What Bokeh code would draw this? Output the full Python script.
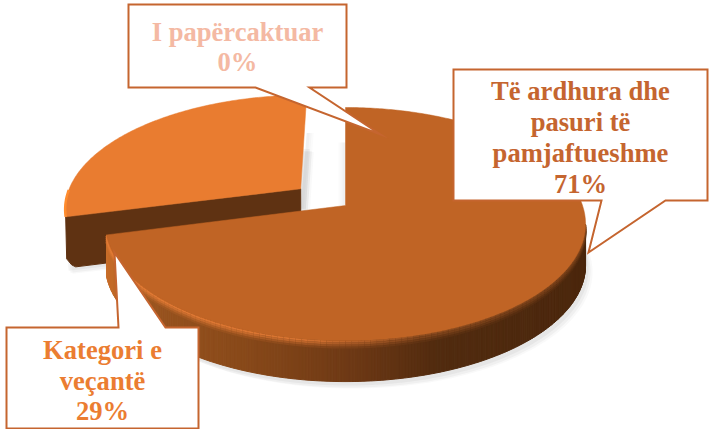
import numpy as np
from bokeh.plotting import figure
from bokeh.models import Range1d
from bokeh.core.properties import value
from bokeh.embed import file_html
from bokeh.resources import INLINE

categories = ["Të ardhura dhe pasuri të pamjaftueshme", "Kategori e veçantë", "I papërcaktuar"]
values = [71, 29, 0]
label_lines = [
    ["Të ardhura dhe", "pasuri të", "pamjaftueshme", "71%"],
    ["Kategori e", "veçantë", "29%"],
    ["I papërcaktuar", "0%"],
]
explode = [0.0, 0.245, 0.0]

TOPS = ["#C06425", "#E97C30", "#F4B9A3"]
TEXTS = ["#C5652F", "#EB7D31", "#F4B9A3"]
BORDER = "#C5652F"
DARK = "#5F3212"

# perspective projection of the unit pie disc
CX, CY, A, B, K = 345.0, 205.0, 237.0, 113.6, 0.159

def project(u, v):
    w = 1 + K * v
    return CX + A * u / w, CY - B * v / w

def slice_xy(start, sweep, off, n=160):
    th = np.radians(np.linspace(start, start + sweep, n))
    u, v = np.sin(th) + off[0], np.cos(th) + off[1]
    return project(u, v)

def hex2rgb(c):
    return np.array([int(c[i:i + 2], 16) for i in (1, 3, 5)], float)

def rgb2hex(c):
    return "#%02X%02X%02X" % tuple(int(round(max(0, min(255, x)))) for x in c)

side_x = [105, 112, 125, 165, 250, 350, 440, 590]
side_c = [hex2rgb(c) for c in ["#C96E2B", "#C26A28", "#A85E22", "#96521E", "#874819", "#6E3915", "#512B0F", "#4B270D"]]

def side_color(x):
    return np.array([np.interp(x, side_x, [c[i] for c in side_c]) for i in range(3)])

W, H = 709, 429
p = figure(width=W, height=H, x_range=Range1d(0, 709), y_range=Range1d(429, 0),
           toolbar_location=None, output_backend="svg", min_border=0,
           outline_line_color=None, background_fill_color="white")
p.xaxis.visible = False
p.yaxis.visible = False
p.grid.visible = False

total = sum(values)
sweeps = [v / total * 360 for v in values]
starts = np.cumsum([0] + sweeps[:-1])
offs = []
for st, sw, ex in zip(starts, sweeps, explode):
    mid = np.radians(st + sw / 2)
    offs.append((ex * np.sin(mid), ex * np.cos(mid)))

DEPTH = [41, 50]

# soft shadows
for i, (dx, dy, a) in enumerate([(7, 7, 0.05), (5, 6, 0.07), (3, 4, 0.09)]):
    for k in (1, 0):
        x, y = slice_xy(starts[k], sweeps[k], offs[k])
        cx, cy = project(*offs[k])
        xs = np.r_[cx, x] + dx
        ys = np.r_[cy, y] + DEPTH[k] + dy
        p.patch(xs, ys, fill_color="#808080", fill_alpha=a, line_color=None)

# white gap between the slices, with faint shadows on its two walls
for i, (dx, a) in enumerate([(7, 0.03), (5, 0.04), (3, 0.05)]):
    x, y = slice_xy(starts[1], sweeps[1], offs[1])
    cx, cy = project(*offs[1])
    p.patch([cx, x[-1], x[-1] + dx, cx + dx], [cy + 20, y[-1] + 38, y[-1] + 38, cy + 20],
            fill_color="#808080", fill_alpha=a, line_color=None)
    x, y = slice_xy(starts[0], sweeps[0], offs[0])
    cx, cy = project(*offs[0])
    p.patch([cx, x[0], x[0] - dx, cx - dx], [cy, y[0] + 35, y[0] + 35, cy],
            fill_color="#808080", fill_alpha=a, line_color=None)

# exploded slice: cut face, rim, top
x, y = slice_xy(starts[1], sweeps[1], offs[1])
cx, cy = project(*offs[1])
d = DEPTH[1]
p.patch([cx, x[0], x[0] + 1, x[0] + 6, x[0] + 10, cx], [cy, y[0], y[0] + d - 8, y[0] + d - 2, y[0] + d, cy + d],
        fill_color=DARK, line_color=DARK, line_width=1, line_join="round")
p.patch(np.r_[cx, x], np.r_[cy, y], fill_color=TOPS[1], line_color=TOPS[1], line_width=0.5)
p.line(x[:22], y[:22], line_color="#FF8C2E", line_width=2.5)

# main slice: curved side built of strips, then top
x, y = slice_xy(starts[0], sweeps[0], offs[0], n=400)
cx, cy = project(*offs[0])
d = DEPTH[0]
front = np.where(np.diff(x) < 0)[0]
fx, fy = x[front[0]:], y[front[0]:]
xsq, ysq, cols = [], [], []
for i in range(len(fx) - 1):
    xsq.append([fx[i], fx[i + 1], fx[i + 1], fx[i]])
    ysq.append([fy[i], fy[i + 1], fy[i + 1] + d, fy[i] + d])
    cols.append(rgb2hex(side_color(fx[i])))
p.patches(xsq, ysq, fill_color=cols, line_color=cols, line_width=1)

# bevel highlight where the top meets the side
hl = hex2rgb("#E67C36")
for off, wid, mix in [(7.0, 2.0, 0.15), (5.0, 2.0, 0.4), (3.0, 2.0, 0.7), (1.0, 2.0, 0.95)]:
    xl, yl, cl = [], [], []
    for i in range(0, len(fx) - 2, 2):
        t = np.interp(fx[i], [105, 300, 420, 590], [1.0, 0.9, 0.4, 0.3]) * mix
        base = side_color(fx[i])
        xl.append([fx[i], fx[i + 2]])
        yl.append([fy[i] + off, fy[i + 2] + off])
        cl.append(rgb2hex(base * (1 - t) + hl * t))
    p.multi_line(xl, yl, line_color=cl, line_width=wid)

p.patch(np.r_[cx, x], np.r_[cy, y], fill_color=TOPS[0], line_color=TOPS[0], line_width=0.5)

# callouts
callouts = [
    dict(idx=2, box=(128, 4, 346, 87), ptr=[(255, 87), (380, 134), (309, 87)], cy=[31, 61]),
    dict(idx=0, box=(453, 69, 707, 200), ptr=[(601, 200), (588, 252), (665, 200)], cy=[90, 121, 152, 183]),
    dict(idx=1, box=(6, 327, 198, 428), ptr=[(118, 327), (114, 252), (165, 327)], cy=[349, 380, 410]),
]
for c in callouts:
    x0, y0, x1, y1 = c["box"]
    (ax, ay), (tx, ty), (bx, by) = c["ptr"]
    if ay == y1:
        xs = [x0, x1, x1, bx, tx, ax, x0]
        ys = [y0, y0, y1, y1, ty, y1, y1]
    else:
        xs = [x0, ax, tx, bx, x1, x1, x0]
        ys = [y0, y0, ty, y0, y0, y1, y1]
    p.patch(xs, ys, fill_color="white", line_color=BORDER, line_width=2, line_join="miter")
    lines = label_lines[c["idx"]]
    p.text([(x0 + x1) / 2] * len(lines), c["cy"], text=lines,
           text_font=value("Liberation Serif"), text_font_style="bold", text_font_size="26.6px",
           text_color=TEXTS[c["idx"]], text_align="center", text_baseline="middle")

open("out.html", "w").write(file_html(p, INLINE))
